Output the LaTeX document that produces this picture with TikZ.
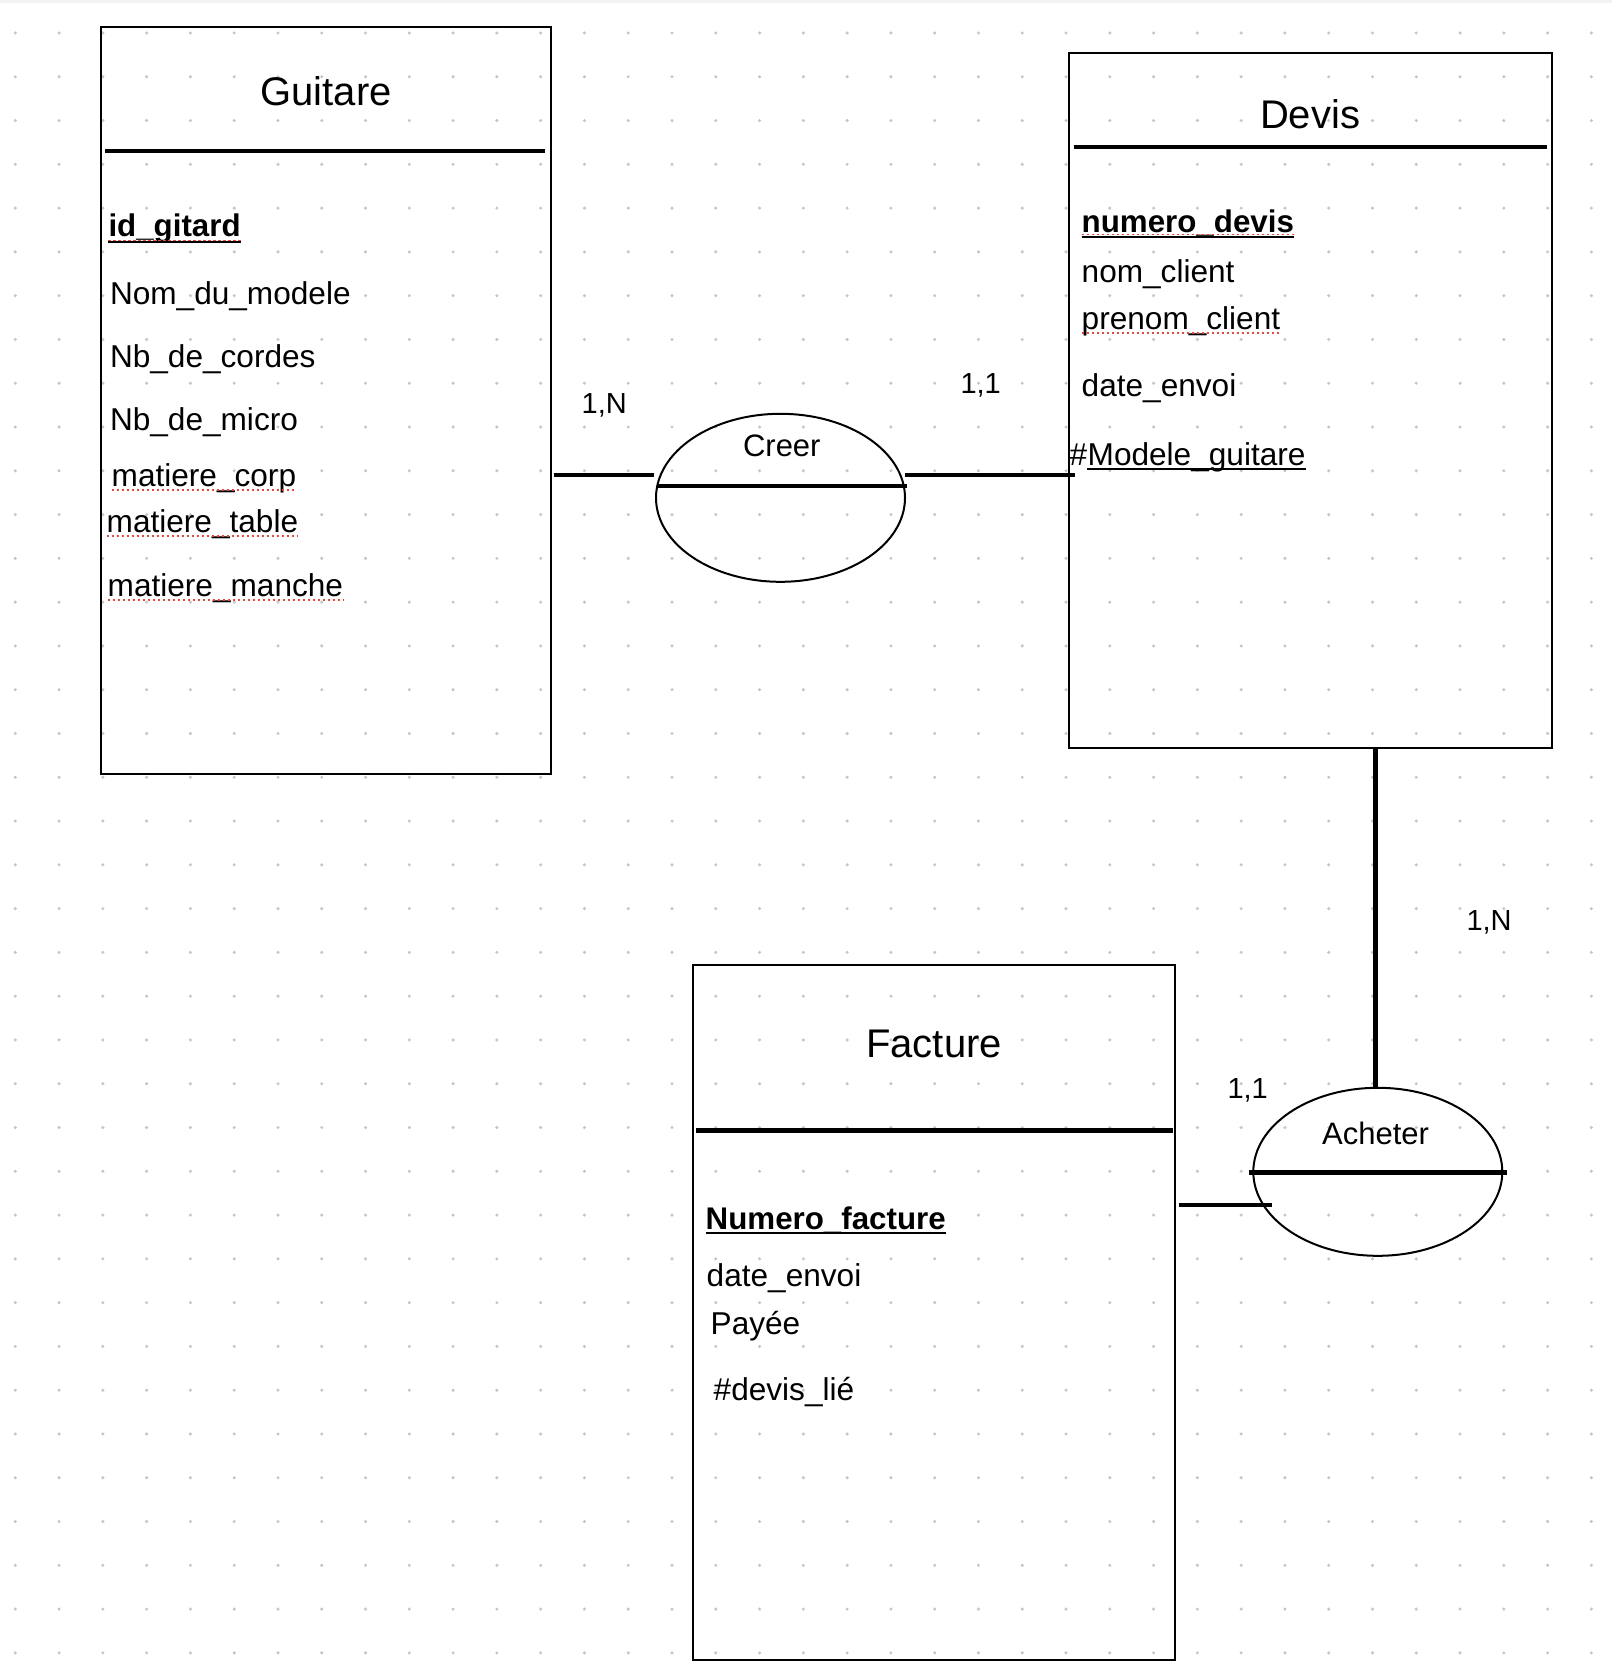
\documentclass[tikz,border=0pt]{standalone}
\usepackage{fontspec}
\setmainfont{Liberation Sans}
\usetikzlibrary{shapes.geometric}
\definecolor{dotgray}{HTML}{C6C6C6}
\definecolor{spellred}{HTML}{E5483E}
\definecolor{topband}{HTML}{F3F2F0}
\begin{document}
\begin{tikzpicture}[x=1pt,y=-1pt,
  entity/.style={draw, line width=2pt, rectangle, inner sep=0pt, outer sep=0pt, anchor=north west},
  assoc/.style={draw, line width=2pt, ellipse, inner sep=0pt, outer sep=0pt, minimum width=249pt, minimum height=168pt},
  bar/.style={line width=4.5pt},
  link/.style={line width=4.5pt},
  title/.style={font=\fontsize{40}{48}\selectfont, anchor=base, inner sep=0pt},
  attr/.style={font=\fontsize{31.6}{37}\selectfont, anchor=base west, inner sep=0pt},
  keyattr/.style={font=\fontsize{31.3}{37}\selectfont\bfseries, anchor=base west, inner sep=0pt},
  rel/.style={font=\fontsize{31}{37}\selectfont, anchor=base, inner sep=0pt},
  card/.style={font=\fontsize{29}{35}\selectfont, anchor=base west, inner sep=0pt},
  uline/.style={line width=2pt},
  spell/.style={spellred, line width=1.6pt, dash pattern=on 2.5pt off 2.5pt},
]
\useasboundingbox (0,0) rectangle (1612,1680);
\fill[white] (0,0) rectangle (1612,1680);
\fill[topband] (0,0) rectangle (1612,3.5);
\foreach \i in {0,...,36}{
  \foreach \j in {0,...,37}{
    \fill[dotgray] ({15.3+43.78*\i},{33+43.78*\j}) circle (1.7pt);
  }
}

% ---------- Entities ----------
\node[entity, minimum width=449.8pt, minimum height=747.6pt] (guitare) at (100.7,26.8) {};
\node[entity, minimum width=483pt, minimum height=694.5pt] (devis) at (1069,53.5) {};
\node[entity, minimum width=482pt, minimum height=694.5pt] (facture) at (693,965) {};

% header bars
\draw[bar] (105,151) -- (545,151);
\draw[bar] (1074,147) -- (1547,147);
\draw[bar] (696,1130.5) -- (1173,1130.5);

% titles
\node[title] (tguitare) at (326,106) {Guitare};
\node[title] (tdevis) at (1310,128.3) {Devis};
\node[title] (tfacture) at (934,1057) {Facture};

% Guitare attributes
\node[keyattr] (g1) at (108.3,237) {id\_gitard};
\draw[spell] ([yshift=-3.5pt]g1.base west) -- ([yshift=-3.5pt]g1.base east);
\draw[uline] ([yshift=-5.5pt]g1.base west) -- ([yshift=-5.5pt]g1.base east);
\node[attr] (g2) at (109.8,304) {Nom\_du\_modele};
\node[attr] (g3) at (109.8,367) {Nb\_de\_cordes};
\node[attr] (g4) at (109.8,430.7) {Nb\_de\_micro};
\node[attr] (g5) at (111.5,486.7) {matiere\_corp};
\draw[spell] ([yshift=-3pt]g5.base west) -- ([yshift=-3pt]g5.base east);
\node[attr] (g6) at (106.5,532.7) {matiere\_table};
\draw[spell] ([yshift=-3pt]g6.base west) -- ([yshift=-3pt]g6.base east);
\node[attr] (g7) at (107.5,596.7) {matiere\_manche};
\draw[spell] ([yshift=-3.3pt]g7.base west) -- ([yshift=-3.3pt]g7.base east);

% Devis attributes
\node[keyattr] (d1) at (1081.5,233) {numero\_devis};
\draw[spell] ([yshift=-1.5pt]d1.base west) -- ([yshift=-1.5pt]d1.base east);
\draw[uline] ([yshift=-4pt]d1.base west) -- ([yshift=-4pt]d1.base east);
\node[attr] (d2) at (1081.5,282.7) {nom\_client};
\node[attr] (d3) at (1081.5,329.3) {prenom\_client};
\draw[spell] ([yshift=-3.7pt]d3.base west) -- ([yshift=-3.7pt]d3.base east);
\node[attr] (d4) at (1081.5,396.7) {date\_envoi};
\node[attr] (d5a) at (1069.5,465) {\#};
\node[attr] (d5) at (d5a.base east) {Modele\_guitare};
\draw[uline] ([yshift=-4pt]d5.base west) -- ([yshift=-4pt]d5.base east);

% Facture attributes
\node[keyattr] (f1) at (705.5,1229) {Numero\_facture};
\draw[uline] ([yshift=-3.5pt]f1.base west) -- ([yshift=-3.5pt]f1.base east);
\node[attr] (f2) at (706.5,1286) {date\_envoi};
\node[attr] (f3) at (710.5,1334) {Payée};
\node[attr] (f4) at (713.5,1400) {\#devis\_lié};

% ---------- Associations ----------
\node[assoc] (creer) at (780.5,497.8) {};
\node[rel] (tcreer) at (781.8,456) {Creer};
\draw[bar] (657,486) -- (906.8,486);

\node[assoc] (acheter) at (1377.8,1171.8) {};
\node[rel] (tacheter) at (1375.5,1144) {Acheter};
\draw[bar] (1249,1172.5) -- (1507,1172.5);

% ---------- Connectors ----------
\coordinate (gc) at (553.6,475);
\coordinate (cg) at (653.8,475);
\coordinate (cd) at (904.5,475);
\coordinate (dc) at (1075,475);
\coordinate (da) at (1375.3,748);
\coordinate (ad) at (1375.3,1088);
\coordinate (fa) at (1179.3,1205);
\coordinate (af) at (1271.7,1205);
\draw[link] (gc) -- (cg);
\draw[link] (cd) -- (dc);
\draw[link] (da) -- (ad);
\draw[link] (fa) -- (af);

% cardinalities
\node[card] (k1) at (581.5,413.3) {1,N};
\node[card] (k2) at (960.3,393.3) {1,1};
\node[card] (k3) at (1466.3,930) {1,N};
\node[card] (k4) at (1227.3,1098.6) {1,1};
\end{tikzpicture}
\end{document}
